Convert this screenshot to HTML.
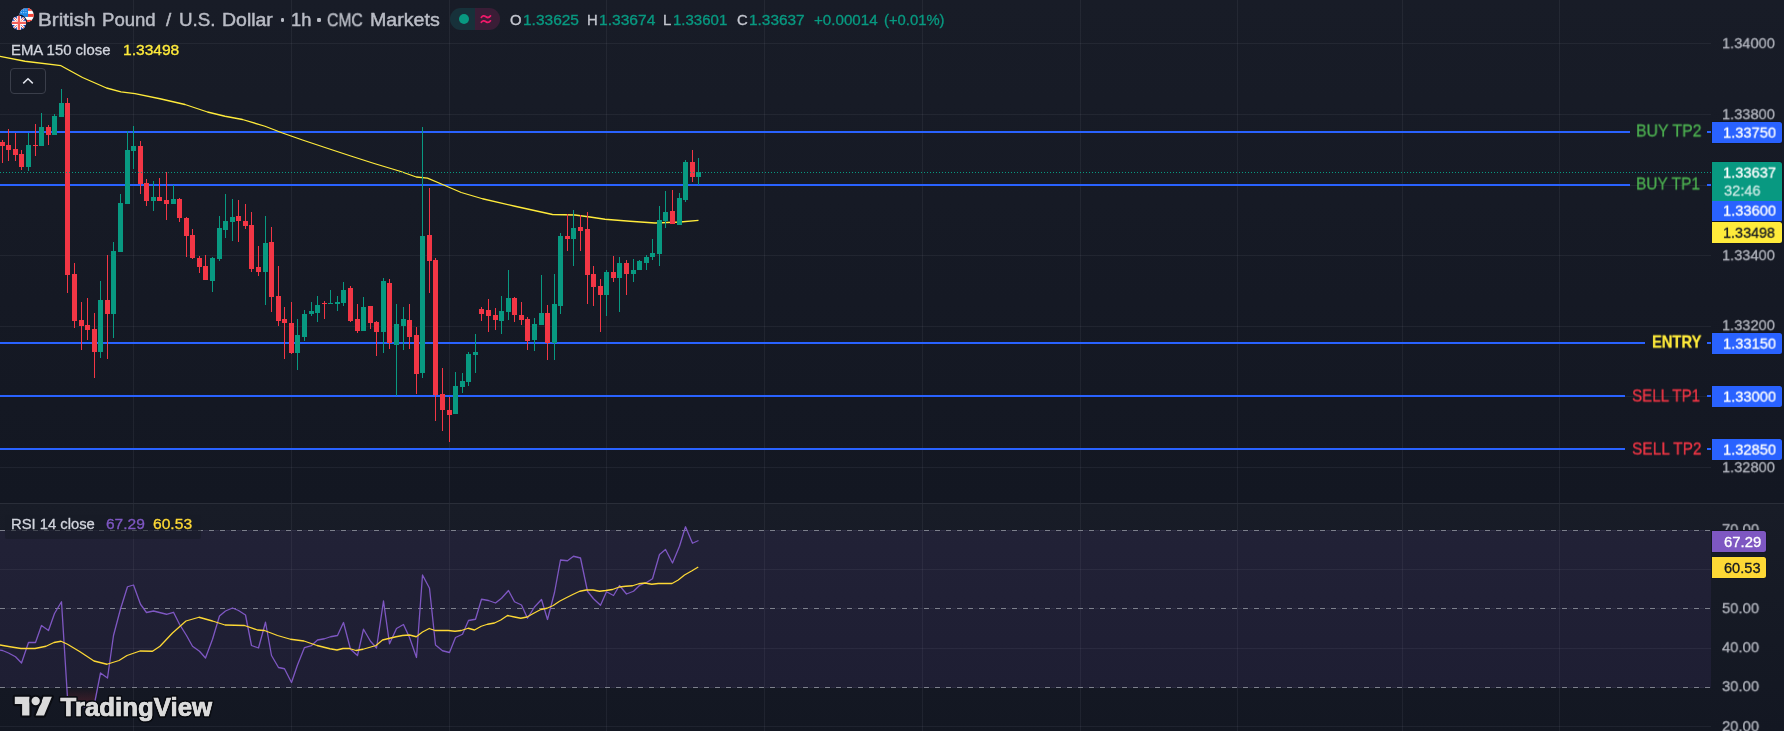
<!DOCTYPE html>
<html><head><meta charset="utf-8"><title>GBPUSD chart</title>
<style>
html,body{margin:0;padding:0;background:#131722;}
body{width:1784px;height:731px;position:relative;overflow:hidden;font-family:"Liberation Sans",sans-serif;}
.pane{position:absolute;left:0;width:1784px;background:linear-gradient(#181c27,#131722);}
#pa{top:0;height:503px}
#pb{top:504px;height:227px}
#sep{position:absolute;left:0;top:503px;width:1784px;height:1px;background:#2a2e39}
svg.c{position:absolute;left:0;top:0}
.t{position:absolute;white-space:nowrap;line-height:1;transform-origin:0 50%;-webkit-text-stroke:0.3px currentColor;will-change:transform}
.tt{-webkit-text-stroke-width:0.45px}
.bx{position:absolute;border-radius:0 2.5px 2.5px 0;box-shadow:0 0 0 1px #131722}
#pill{position:absolute;left:450px;top:8px;width:50px;height:22px;border-radius:11px;overflow:hidden;background:linear-gradient(90deg,#17313a 0,#17313a 25px,#3a1d36 25px,#3a1d36 50px)}
#dot{position:absolute;left:9px;top:6px;width:10px;height:10px;border-radius:5px;background:#089981}
#btn{position:absolute;left:10px;top:68px;width:34px;height:24px;border:1px solid #3a3e4a;border-radius:4px}

.bl{position:absolute;top:18.4px;width:3.6px;height:3.6px;border-radius:1.2px;background:#b9bcc5}
#lg{position:absolute;left:5px;top:515px;width:196px;height:24px;background:rgba(24,28,39,0.55);border-radius:2px}
</style></head><body>
<div class="pane" id="pa"></div><div class="pane" id="pb"></div><div id="sep"></div>
<svg class="c" width="1784" height="731" viewBox="0 0 1784 731">
<defs><linearGradient id="os" x1="0" y1="687" x2="0" y2="706" gradientUnits="userSpaceOnUse"><stop offset="0" stop-color="#f23645" stop-opacity="0"/><stop offset="1" stop-color="#f23645" stop-opacity="0.22"/></linearGradient></defs>
<g fill="#f0f3fa" fill-opacity="0.06" shape-rendering="crispEdges"><rect x="133" y="0" width="1" height="503"/><rect x="133" y="504" width="1" height="227"/><rect x="291" y="0" width="1" height="503"/><rect x="291" y="504" width="1" height="227"/><rect x="449" y="0" width="1" height="503"/><rect x="449" y="504" width="1" height="227"/><rect x="606" y="0" width="1" height="503"/><rect x="606" y="504" width="1" height="227"/><rect x="764" y="0" width="1" height="503"/><rect x="764" y="504" width="1" height="227"/><rect x="922" y="0" width="1" height="503"/><rect x="922" y="504" width="1" height="227"/><rect x="1080" y="0" width="1" height="503"/><rect x="1080" y="504" width="1" height="227"/><rect x="1237" y="0" width="1" height="503"/><rect x="1237" y="504" width="1" height="227"/><rect x="1402" y="0" width="1" height="503"/><rect x="1402" y="504" width="1" height="227"/><rect x="1559" y="0" width="1" height="503"/><rect x="1559" y="504" width="1" height="227"/><rect x="0" y="43" width="1711" height="1"/><rect x="0" y="114" width="1711" height="1"/><rect x="0" y="185" width="1711" height="1"/><rect x="0" y="255" width="1711" height="1"/><rect x="0" y="326" width="1711" height="1"/><rect x="0" y="396" width="1711" height="1"/><rect x="0" y="467" width="1711" height="1"/><rect x="0" y="569" width="1711" height="1"/><rect x="0" y="648" width="1711" height="1"/><rect x="0" y="726" width="1711" height="1"/></g>
<rect x="0" y="530" width="1711" height="158" fill="#7e57c2" fill-opacity="0.1" shape-rendering="crispEdges"/>
<line x1="0" y1="530.5" x2="1711" y2="530.5" stroke="#7d808c" stroke-width="1" stroke-dasharray="5 6" shape-rendering="crispEdges"/>
<line x1="6" y1="530.5" x2="1711" y2="530.5" stroke="#a8a4c4" stroke-opacity="0.09" stroke-width="1" stroke-dasharray="4 7" shape-rendering="crispEdges"/>
<line x1="0" y1="608.5" x2="1711" y2="608.5" stroke="#7d808c" stroke-width="1" stroke-dasharray="5 6" shape-rendering="crispEdges"/>
<line x1="6" y1="608.5" x2="1711" y2="608.5" stroke="#a8a4c4" stroke-opacity="0.09" stroke-width="1" stroke-dasharray="4 7" shape-rendering="crispEdges"/>
<line x1="0" y1="687.5" x2="1711" y2="687.5" stroke="#7d808c" stroke-width="1" stroke-dasharray="5 6" shape-rendering="crispEdges"/>
<line x1="6" y1="687.5" x2="1711" y2="687.5" stroke="#a8a4c4" stroke-opacity="0.09" stroke-width="1" stroke-dasharray="4 7" shape-rendering="crispEdges"/>
<polygon points="66.8,687.5 67.5,698.0 74.5,700.0 81.5,706.0 87.5,708.0 94.5,703.5 97.6,687.5" fill="url(#os)"/>
<g fill="#2962ff" shape-rendering="crispEdges"><rect x="0" y="131" width="1630" height="2"/><rect x="1707" y="131" width="4" height="2"/><rect x="0" y="184" width="1630" height="2"/><rect x="1707" y="184" width="4" height="2"/><rect x="0" y="342" width="1645" height="2"/><rect x="1707" y="342" width="4" height="2"/><rect x="0" y="395" width="1625" height="2"/><rect x="1707" y="395" width="4" height="2"/><rect x="0" y="448" width="1625" height="2"/><rect x="1707" y="448" width="4" height="2"/></g>
<polyline fill="none" stroke="#ffeb3b" stroke-width="1.3" stroke-linejoin="round" points="-2,56 0,56.4 25,61.25 61,65.7 82.5,77.5 106.5,88 121,91.8 135,93.6 160,98.75 185,104.5 207.5,112 225,116.25 242.5,119.5 265,126.25 282.5,133 302.5,140 325,147.5 350,155.75 375,163.75 400,171.25 416.25,177 427.5,178.2 443.75,185 461.25,192.5 482.5,198.75 515,206.25 552.5,214.5 575,215 590,217 605,219.25 630,221.25 655,223 680,222 698.5,220.3"/>
<g fill="#089981" shape-rendering="crispEdges"><rect x="28" y="133" width="1" height="38"/><rect x="26" y="145" width="5" height="22"/><rect x="41" y="113" width="1" height="33"/><rect x="39" y="127" width="5" height="19"/><rect x="54" y="114" width="1" height="21"/><rect x="52" y="116" width="5" height="19"/><rect x="61" y="89" width="1" height="28"/><rect x="59" y="103" width="5" height="14"/><rect x="100" y="281" width="1" height="77"/><rect x="98" y="300" width="5" height="52"/><rect x="113" y="242" width="1" height="96"/><rect x="111" y="251" width="5" height="63"/><rect x="120" y="194" width="1" height="58"/><rect x="118" y="203" width="5" height="49"/><rect x="127" y="131" width="1" height="73"/><rect x="125" y="150" width="5" height="54"/><rect x="133" y="126" width="1" height="43"/><rect x="131" y="146" width="5" height="5"/><rect x="153" y="181" width="1" height="30"/><rect x="151" y="197" width="5" height="4"/><rect x="173" y="185" width="1" height="19"/><rect x="171" y="199" width="5" height="5"/><rect x="212" y="257" width="1" height="35"/><rect x="210" y="258" width="5" height="23"/><rect x="219" y="216" width="1" height="45"/><rect x="217" y="228" width="5" height="31"/><rect x="225" y="194" width="1" height="44"/><rect x="223" y="221" width="5" height="9"/><rect x="232" y="199" width="1" height="42"/><rect x="230" y="217" width="5" height="5"/><rect x="265" y="216" width="1" height="89"/><rect x="263" y="243" width="5" height="29"/><rect x="297" y="319" width="1" height="51"/><rect x="295" y="335" width="5" height="18"/><rect x="304" y="310" width="1" height="31"/><rect x="302" y="314" width="5" height="23"/><rect x="311" y="302" width="1" height="14"/><rect x="309" y="311" width="5" height="3"/><rect x="317" y="296" width="1" height="26"/><rect x="315" y="305" width="5" height="8"/><rect x="330" y="290" width="1" height="14"/><rect x="328" y="303" width="5" height="1"/><rect x="337" y="296" width="1" height="15"/><rect x="335" y="302" width="5" height="2"/><rect x="343" y="282" width="1" height="24"/><rect x="341" y="290" width="5" height="13"/><rect x="363" y="297" width="1" height="34"/><rect x="361" y="307" width="5" height="24"/><rect x="383" y="278" width="1" height="75"/><rect x="381" y="281" width="5" height="51"/><rect x="396" y="304" width="1" height="92"/><rect x="394" y="324" width="5" height="21"/><rect x="403" y="307" width="1" height="43"/><rect x="401" y="319" width="5" height="7"/><rect x="422" y="127" width="1" height="251"/><rect x="420" y="236" width="5" height="137"/><rect x="455" y="372" width="1" height="42"/><rect x="453" y="386" width="5" height="28"/><rect x="462" y="373" width="1" height="20"/><rect x="460" y="381" width="5" height="6"/><rect x="468" y="352" width="1" height="34"/><rect x="466" y="354" width="5" height="28"/><rect x="475" y="334" width="1" height="39"/><rect x="473" y="352" width="5" height="3"/><rect x="501" y="296" width="1" height="38"/><rect x="499" y="311" width="5" height="10"/><rect x="508" y="270" width="1" height="50"/><rect x="506" y="298" width="5" height="14"/><rect x="534" y="318" width="1" height="33"/><rect x="532" y="324" width="5" height="16"/><rect x="541" y="275" width="1" height="50"/><rect x="539" y="313" width="5" height="12"/><rect x="554" y="274" width="1" height="86"/><rect x="552" y="304" width="5" height="39"/><rect x="560" y="233" width="1" height="81"/><rect x="558" y="236" width="5" height="70"/><rect x="573" y="210" width="1" height="56"/><rect x="571" y="228" width="5" height="11"/><rect x="606" y="270" width="1" height="46"/><rect x="604" y="272" width="5" height="23"/><rect x="619" y="257" width="1" height="55"/><rect x="617" y="263" width="5" height="15"/><rect x="633" y="259" width="1" height="23"/><rect x="631" y="270" width="5" height="4"/><rect x="639" y="260" width="1" height="10"/><rect x="637" y="261" width="5" height="9"/><rect x="646" y="255" width="1" height="15"/><rect x="644" y="257" width="5" height="6"/><rect x="652" y="239" width="1" height="21"/><rect x="650" y="253" width="5" height="4"/><rect x="659" y="206" width="1" height="60"/><rect x="657" y="220" width="5" height="34"/><rect x="665" y="191" width="1" height="37"/><rect x="663" y="212" width="5" height="9"/><rect x="679" y="193" width="1" height="32"/><rect x="677" y="198" width="5" height="27"/><rect x="685" y="160" width="1" height="42"/><rect x="683" y="162" width="5" height="38"/><rect x="698" y="158" width="1" height="27"/><rect x="696" y="172" width="5" height="5"/></g>
<g fill="#f23645" shape-rendering="crispEdges"><rect x="2" y="140" width="1" height="23"/><rect x="0" y="142" width="5" height="4"/><rect x="8" y="129" width="1" height="32"/><rect x="6" y="145" width="5" height="5"/><rect x="15" y="133" width="1" height="28"/><rect x="13" y="149" width="5" height="6"/><rect x="21" y="150" width="1" height="20"/><rect x="19" y="154" width="5" height="13"/><rect x="35" y="124" width="1" height="32"/><rect x="33" y="145" width="5" height="1"/><rect x="48" y="125" width="1" height="20"/><rect x="46" y="127" width="5" height="8"/><rect x="67" y="98" width="1" height="195"/><rect x="65" y="103" width="5" height="172"/><rect x="74" y="263" width="1" height="65"/><rect x="72" y="274" width="5" height="47"/><rect x="81" y="302" width="1" height="48"/><rect x="79" y="320" width="5" height="6"/><rect x="87" y="298" width="1" height="42"/><rect x="85" y="325" width="5" height="5"/><rect x="94" y="313" width="1" height="65"/><rect x="92" y="329" width="5" height="23"/><rect x="107" y="255" width="1" height="104"/><rect x="105" y="300" width="5" height="14"/><rect x="140" y="141" width="1" height="53"/><rect x="138" y="146" width="5" height="38"/><rect x="146" y="179" width="1" height="27"/><rect x="144" y="183" width="5" height="18"/><rect x="159" y="178" width="1" height="23"/><rect x="157" y="197" width="5" height="4"/><rect x="166" y="172" width="1" height="48"/><rect x="164" y="200" width="5" height="4"/><rect x="179" y="198" width="1" height="24"/><rect x="177" y="199" width="5" height="19"/><rect x="186" y="217" width="1" height="40"/><rect x="184" y="218" width="5" height="18"/><rect x="192" y="229" width="1" height="30"/><rect x="190" y="235" width="5" height="23"/><rect x="199" y="256" width="1" height="17"/><rect x="197" y="258" width="5" height="9"/><rect x="205" y="255" width="1" height="25"/><rect x="203" y="266" width="5" height="14"/><rect x="238" y="200" width="1" height="42"/><rect x="236" y="216" width="5" height="5"/><rect x="245" y="204" width="1" height="25"/><rect x="243" y="221" width="5" height="5"/><rect x="251" y="212" width="1" height="60"/><rect x="249" y="225" width="5" height="44"/><rect x="258" y="246" width="1" height="30"/><rect x="256" y="267" width="5" height="5"/><rect x="271" y="227" width="1" height="85"/><rect x="269" y="242" width="5" height="55"/><rect x="278" y="266" width="1" height="60"/><rect x="276" y="296" width="5" height="25"/><rect x="284" y="307" width="1" height="52"/><rect x="282" y="319" width="5" height="4"/><rect x="291" y="302" width="1" height="52"/><rect x="289" y="323" width="5" height="30"/><rect x="324" y="301" width="1" height="18"/><rect x="322" y="303" width="5" height="1"/><rect x="350" y="286" width="1" height="36"/><rect x="348" y="288" width="5" height="33"/><rect x="357" y="304" width="1" height="29"/><rect x="355" y="319" width="5" height="12"/><rect x="370" y="306" width="1" height="23"/><rect x="368" y="306" width="5" height="17"/><rect x="376" y="321" width="1" height="35"/><rect x="374" y="322" width="5" height="10"/><rect x="389" y="279" width="1" height="70"/><rect x="387" y="283" width="5" height="60"/><rect x="409" y="304" width="1" height="45"/><rect x="407" y="320" width="5" height="17"/><rect x="416" y="327" width="1" height="67"/><rect x="414" y="335" width="5" height="39"/><rect x="429" y="188" width="1" height="105"/><rect x="427" y="235" width="5" height="26"/><rect x="435" y="258" width="1" height="163"/><rect x="433" y="260" width="5" height="135"/><rect x="442" y="368" width="1" height="63"/><rect x="440" y="394" width="5" height="16"/><rect x="449" y="397" width="1" height="45"/><rect x="447" y="410" width="5" height="5"/><rect x="481" y="307" width="1" height="14"/><rect x="479" y="309" width="5" height="5"/><rect x="488" y="299" width="1" height="33"/><rect x="486" y="310" width="5" height="6"/><rect x="495" y="308" width="1" height="22"/><rect x="493" y="315" width="5" height="5"/><rect x="514" y="297" width="1" height="25"/><rect x="512" y="298" width="5" height="17"/><rect x="521" y="302" width="1" height="23"/><rect x="519" y="315" width="5" height="5"/><rect x="527" y="317" width="1" height="33"/><rect x="525" y="319" width="5" height="22"/><rect x="547" y="305" width="1" height="55"/><rect x="545" y="313" width="5" height="30"/><rect x="567" y="214" width="1" height="37"/><rect x="565" y="236" width="5" height="3"/><rect x="580" y="215" width="1" height="36"/><rect x="578" y="227" width="5" height="4"/><rect x="587" y="212" width="1" height="92"/><rect x="585" y="229" width="5" height="46"/><rect x="593" y="266" width="1" height="40"/><rect x="591" y="274" width="5" height="13"/><rect x="600" y="279" width="1" height="53"/><rect x="598" y="286" width="5" height="9"/><rect x="613" y="256" width="1" height="26"/><rect x="611" y="272" width="5" height="6"/><rect x="626" y="260" width="1" height="35"/><rect x="624" y="263" width="5" height="11"/><rect x="672" y="190" width="1" height="34"/><rect x="670" y="211" width="5" height="13"/><rect x="692" y="150" width="1" height="32"/><rect x="690" y="162" width="5" height="15"/></g>
<line x1="0" y1="172.5" x2="1711" y2="172.5" stroke="#089981" stroke-width="1" stroke-dasharray="1 2" shape-rendering="crispEdges"/>
<polyline fill="none" stroke="#7e57c2" stroke-width="1.3" stroke-linejoin="round" points="-4.5,649.3 2.5,650.5 8.5,653 15.5,656.75 21.5,663 28.5,642.5 35.5,642.5 41.5,625.5 48.5,630.5 54.5,613.5 61.5,601.75 67.5,698 74.5,700 81.5,706 87.5,708 94.5,703.5 100.5,673 107.5,678 113.5,635.5 120.5,609 127.5,586.75 133.5,585 140.5,604.25 146.5,612.5 153.5,611 159.5,612.5 166.5,614.25 173.5,612.25 179.5,624.25 186.5,635.5 192.5,646.25 199.5,651.25 205.5,658 212.5,639.25 219.5,616 225.5,611 232.5,608 238.5,610.5 245.5,615 251.5,645.5 258.5,648 265.5,622.25 271.5,655.5 278.5,667.5 284.5,668.75 291.5,682.5 297.5,665 304.5,647.5 311.5,645.5 317.5,640 324.5,638.75 330.5,636.75 337.5,635.5 343.5,622.5 350.5,649.25 357.5,655.5 363.5,629.25 370.5,641.25 376.5,648 383.5,601 389.5,643.75 396.5,628.5 403.5,624.5 409.5,637.5 416.5,657.5 422.5,575 429.5,588.25 435.5,645 442.5,650.75 449.5,652.5 455.5,637.5 462.5,634.25 468.5,620.5 475.5,619.25 481.5,599.25 488.5,600.5 495.5,603 501.5,598.25 508.5,590.5 514.5,601.75 521.5,605 527.5,618.25 534.5,607 541.5,599.5 547.5,619.5 554.5,592.5 560.5,560 567.5,560.75 573.5,556.25 580.5,558 587.5,591.25 593.5,598.75 600.5,605.25 606.5,591.75 613.5,595.5 619.5,585.5 626.5,594 633.5,591.25 639.5,585.5 646.5,582.5 652.5,578.75 659.5,554.5 665.5,549.5 672.5,563 679.5,546.25 685.5,526.75 692.5,543.25 698.5,540.5"/>
<polyline fill="none" stroke="#fdd835" stroke-width="1.3" stroke-linejoin="round" points="-2,645 0,645 10,646.75 21,648.5 35,648.5 46,646.25 54,642.5 61,641.25 67.5,644.25 80,651.75 94,661 107,664.25 119,660.5 127,655.5 140,651 152.5,651.25 160,646.25 172.5,633 186,621 199,617.25 212.5,621 225,625 244.5,625.5 257.5,630 264.5,630.5 277.5,635.5 290.5,639.25 304,641 317,645.5 330,648.75 337,650 343,648.5 349.5,648.5 356,650.5 363,649.25 376,645.5 382.5,640 396,636.75 402.5,635.5 409.5,635 416.25,636.75 422.5,632 429.25,628.5 435,630.5 448.25,630.5 455,631.25 461.25,630.5 468.25,628.25 474.5,630 481.25,626.25 487.5,624.25 494.5,623 500.75,620 507.5,615.5 514.5,617 520.75,618.25 527,617 533.75,613.25 540.75,609.5 547,608.25 553.25,605.5 559.5,601.25 566.75,597.5 573.25,594.25 579.75,591.25 586.25,590 593,590 599.5,591.25 605.75,590.5 612.5,589.5 619.25,587 625.75,586.25 632.5,585.75 638.75,583.75 645,583 651.75,584.25 658.25,583.5 672,583.5 678.25,580 684.5,575 692,570.75 698.25,567"/>
</svg>
<div id="lg"></div>
<div class="bl" style="left:280.5px"></div><div class="bl" style="left:317px"></div>
<div id="pill"><div id="dot"></div>
<svg style="position:absolute;left:30px;top:5px" width="14" height="12" viewBox="0 0 14 12"><path d="M1.3 4.4c1.4-1.9 3-1.9 4.7-.6 1.5 1.1 2.9 1.1 4.5-.9M1.3 9.3c1.4-1.9 3-1.9 4.7-.6 1.5 1.1 2.9 1.1 4.5-.9" fill="none" stroke="#f0196a" stroke-width="1.7" stroke-linecap="round"/></svg>
</div>
<div id="btn"><svg style="position:absolute;left:10px;top:8px" width="14" height="9" viewBox="0 0 14 9"><path d="M2.2 6.4 7 1.8l4.8 4.6" fill="none" stroke="#e0e3eb" stroke-width="1.5"/></svg></div>
<svg class="c" style="left:8px;top:4px" width="34" height="30" viewBox="8 4 34 30">
<defs><clipPath id="cu"><circle cx="26.6" cy="15.1" r="7.2"/></clipPath><clipPath id="ck"><circle cx="18.95" cy="22.9" r="7.2"/></clipPath></defs>
<g clip-path="url(#cu)"><rect x="19" y="7" width="16" height="17" fill="#fff"/>
<g fill="#f44336"><rect x="19" y="7.8" width="16" height="3"/><rect x="19" y="13.9" width="16" height="3"/><rect x="19" y="19.9" width="16" height="3"/></g>
<rect x="19" y="7" width="9" height="9.9" fill="#1e88e5"/>
<g fill="#90caf9"><rect x="20.8" y="9.5" width="1.1" height="1.2"/><rect x="23.1" y="9.5" width="1.1" height="1.2"/><rect x="25.4" y="9.5" width="1.1" height="1.2"/><rect x="20.8" y="12" width="1.1" height="1.2"/><rect x="23.1" y="12" width="1.1" height="1.2"/><rect x="25.4" y="12" width="1.1" height="1.2"/></g></g>
<circle cx="18.95" cy="22.9" r="8.3" fill="#171b26"/>
<g clip-path="url(#ck)"><rect x="11" y="15" width="16" height="16" fill="#1a47b8"/>
<path d="M11.5 15.45l15 15M26.4 15.45l-15 15" stroke="#fff" stroke-width="2.6"/>
<path d="M11.5 15.45l15 15M26.4 15.45l-15 15" stroke="#f4605a" stroke-width="1"/>
<path d="M18.95 15v16M11 22.9h16" stroke="#fff" stroke-width="4.2"/>
<path d="M18.95 15v16M11 22.9h16" stroke="#f4605a" stroke-width="2.4"/></g>
</svg>
<div class="t tt" id="ti1" style="left:38.32px;top:21.3px;font-size:17.6px;color:#b9bcc5;font-weight:400;transform:translateY(-50%) scaleX(1.1784)">British</div>
<div class="t tt" id="ti2" style="left:101.84px;top:21.3px;font-size:17.6px;color:#b9bcc5;font-weight:400;transform:translateY(-50%) scaleX(1.0552)">Pound</div>
<div class="t tt" id="ti3" style="left:165.95px;top:21.3px;font-size:17.6px;color:#b9bcc5;font-weight:400;transform:translateY(-50%) scaleX(1.0600)">/</div>
<div class="t tt" id="ti4" style="left:178.83px;top:21.3px;font-size:17.6px;color:#b9bcc5;font-weight:400;transform:translateY(-50%) scaleX(1.0672)">U.S.</div>
<div class="t tt" id="ti5" style="left:221.59px;top:21.3px;font-size:17.6px;color:#b9bcc5;font-weight:400;transform:translateY(-50%) scaleX(1.1066)">Dollar</div>
<div class="t tt" id="ti6" style="left:290.56px;top:21.3px;font-size:17.6px;color:#b9bcc5;font-weight:400;transform:translateY(-50%) scaleX(1.0402)">1h</div>
<div class="t tt" id="ti7" style="left:327.00px;top:21.3px;font-size:17.6px;color:#b9bcc5;font-weight:400;transform:translateY(-50%) scaleX(0.8944)">CMC</div>
<div class="t tt" id="ti8" style="left:369.58px;top:21.3px;font-size:17.6px;color:#b9bcc5;font-weight:400;transform:translateY(-50%) scaleX(1.1154)">Markets</div>
<div class="t" id="o" style="left:509.52px;top:20px;font-size:14px;color:#c3c6cf;font-weight:400;transform:translateY(-50%) scaleX(1.0600)">O</div>
<div class="t" id="ov" style="left:522.59px;top:20px;font-size:14px;color:#089981;font-weight:400;transform:translateY(-50%) scaleX(1.1060)">1.33625</div>
<div class="t" id="h" style="left:586.80px;top:20px;font-size:14px;color:#c3c6cf;font-weight:400;transform:translateY(-50%) scaleX(1.0600)">H</div>
<div class="t" id="hv" style="left:598.69px;top:20px;font-size:14px;color:#089981;font-weight:400;transform:translateY(-50%) scaleX(1.1140)">1.33674</div>
<div class="t" id="l" style="left:663.13px;top:20px;font-size:14px;color:#c3c6cf;font-weight:400;transform:translateY(-50%) scaleX(1.0600)">L</div>
<div class="t" id="lv" style="left:673.13px;top:20px;font-size:14px;color:#089981;font-weight:400;transform:translateY(-50%) scaleX(1.0719)">1.33601</div>
<div class="t" id="c" style="left:736.65px;top:20px;font-size:14px;color:#c3c6cf;font-weight:400;transform:translateY(-50%) scaleX(1.0600)">C</div>
<div class="t" id="cv" style="left:748.70px;top:20px;font-size:14px;color:#089981;font-weight:400;transform:translateY(-50%) scaleX(1.1000)">1.33637</div>
<div class="t" id="chg" style="left:813.70px;top:20px;font-size:14px;color:#089981;font-weight:400;transform:translateY(-50%) scaleX(1.0831)">+0.00014</div>
<div class="t" id="chg2" style="left:884.40px;top:20px;font-size:14px;color:#089981;font-weight:400;transform:translateY(-50%) scaleX(1.0578)">(+0.01%)</div>
<div class="t" id="ema" style="left:11.14px;top:49.6px;font-size:14px;color:#d1d4dc;font-weight:400;transform:translateY(-50%) scaleX(1.0646)">EMA 150 close</div>
<div class="t" id="emav" style="left:122.89px;top:49.6px;font-size:14px;color:#ffeb3b;font-weight:400;transform:translateY(-50%) scaleX(1.1120)">1.33498</div>
<div class="t" id="rsi" style="left:11.14px;top:524.4px;font-size:14px;color:#d1d4dc;font-weight:400;transform:translateY(-50%) scaleX(1.0562)">RSI 14 close</div>
<div class="t" id="rsiv" style="left:106.00px;top:524.4px;font-size:14px;color:#7e57c2;font-weight:400;transform:translateY(-50%) scaleX(1.1064)">67.29</div>
<div class="t" id="rsim" style="left:153.40px;top:524.4px;font-size:14px;color:#fdd835;font-weight:400;transform:translateY(-50%) scaleX(1.1150)">60.53</div>
<div class="t" id="ax0" style="left:1722.46px;top:42.75px;font-size:15.5px;color:#b2b5be;font-weight:400;transform:translateY(-50%) scaleX(0.9421)">1.34000</div>
<div class="t" id="ax1" style="left:1722.46px;top:113.75px;font-size:15.5px;color:#b2b5be;font-weight:400;transform:translateY(-50%) scaleX(0.9421)">1.33800</div>
<div class="t" id="ax2" style="left:1722.46px;top:184.7px;font-size:15.5px;color:#b2b5be;font-weight:400;transform:translateY(-50%) scaleX(0.9421)">1.33600</div>
<div class="t" id="ax3" style="left:1722.46px;top:254.75px;font-size:15.5px;color:#b2b5be;font-weight:400;transform:translateY(-50%) scaleX(0.9421)">1.33400</div>
<div class="t" id="ax4" style="left:1722.46px;top:324.65px;font-size:15.5px;color:#b2b5be;font-weight:400;transform:translateY(-50%) scaleX(0.9421)">1.33200</div>
<div class="t" id="ax5" style="left:1722.46px;top:395.7px;font-size:15.5px;color:#b2b5be;font-weight:400;transform:translateY(-50%) scaleX(0.9421)">1.33000</div>
<div class="t" id="ax6" style="left:1722.46px;top:466.65px;font-size:15.5px;color:#b2b5be;font-weight:400;transform:translateY(-50%) scaleX(0.9421)">1.32800</div>
<div class="t" id="rx0" style="left:1721.80px;top:529.35px;font-size:15.5px;color:#b2b5be;font-weight:400;transform:translateY(-50%) scaleX(0.9549)">70.00</div>
<div class="t" id="rx1" style="left:1721.80px;top:607.8000000000001px;font-size:15.5px;color:#b2b5be;font-weight:400;transform:translateY(-50%) scaleX(0.9549)">50.00</div>
<div class="t" id="rx2" style="left:1721.80px;top:646.7px;font-size:15.5px;color:#b2b5be;font-weight:400;transform:translateY(-50%) scaleX(0.9549)">40.00</div>
<div class="t" id="rx3" style="left:1721.80px;top:685.6500000000001px;font-size:15.5px;color:#b2b5be;font-weight:400;transform:translateY(-50%) scaleX(0.9549)">30.00</div>
<div class="t" id="rx4" style="left:1721.80px;top:725.8000000000001px;font-size:15.5px;color:#b2b5be;font-weight:400;transform:translateY(-50%) scaleX(0.9549)">20.00</div>
<div class="t" id="b2" style="left:1635.87px;top:130.7px;font-size:17px;color:#4caf50;font-weight:400;transform:translateY(-50%) scaleX(0.9323)">BUY TP2</div>
<div class="t" id="b1" style="left:1635.89px;top:183.7px;font-size:17px;color:#4caf50;font-weight:400;transform:translateY(-50%) scaleX(0.9107)">BUY TP1</div>
<div class="t" id="en" style="left:1651.63px;top:342px;font-size:17px;color:#ffeb3b;font-weight:700;transform:translateY(-50%) scaleX(0.8650)">ENTRY</div>
<div class="t" id="s1" style="left:1632.00px;top:395.5px;font-size:17px;color:#f23645;font-weight:400;transform:translateY(-50%) scaleX(0.8892)">SELL TP1</div>
<div class="t" id="s2" style="left:1632.00px;top:448.5px;font-size:17px;color:#f23645;font-weight:400;transform:translateY(-50%) scaleX(0.9087)">SELL TP2</div>
<div class="bx" style="left:1712px;top:122px;width:70px;height:21px;background:#2962ff"></div>
<div class="t" id="p1" style="left:1723.21px;top:132.9px;font-size:14.8px;color:#fff;font-weight:400;transform:translateY(-50%) scaleX(0.9912)">1.33750</div>
<div class="bx" style="left:1712px;top:162px;width:70px;height:39px;background:#089981;border-radius:0 2.5px 0 0"></div>
<div class="t" id="p2" style="left:1723.21px;top:172.9px;font-size:14.8px;color:#fff;font-weight:400;transform:translateY(-50%) scaleX(0.9912)">1.33637</div>
<div class="t" id="p2e" style="left:1724.20px;top:190.5px;font-size:14.8px;color:rgba(255,255,255,0.72);font-weight:400;transform:translateY(-50%) scaleX(0.9864)">32:46</div>
<div class="bx" style="left:1712px;top:201px;width:70px;height:20.5px;background:#2962ff;border-radius:0 0 2.5px 0;box-shadow:1px 0 0 #131722,-1px 0 0 #131722,0 1px 0 #131722"></div>
<div class="t" id="p3" style="left:1723.21px;top:211.4px;font-size:14.8px;color:#fff;font-weight:400;transform:translateY(-50%) scaleX(0.9912)">1.33600</div>
<div class="bx" style="left:1712px;top:222px;width:70px;height:21px;background:#ffeb3b"></div>
<div class="t" id="p4" style="left:1723.21px;top:232.9px;font-size:14.5px;color:#131722;font-weight:400;transform:translateY(-50%) scaleX(0.9912)">1.33498</div>
<div class="bx" style="left:1712px;top:333px;width:70px;height:21px;background:#2962ff"></div>
<div class="t" id="p5" style="left:1723.21px;top:343.9px;font-size:14.8px;color:#fff;font-weight:400;transform:translateY(-50%) scaleX(0.9912)">1.33150</div>
<div class="bx" style="left:1712px;top:386px;width:70px;height:21px;background:#2962ff"></div>
<div class="t" id="p6" style="left:1723.21px;top:396.9px;font-size:14.8px;color:#fff;font-weight:400;transform:translateY(-50%) scaleX(0.9912)">1.33000</div>
<div class="bx" style="left:1712px;top:439px;width:70px;height:21px;background:#2962ff"></div>
<div class="t" id="p7" style="left:1723.21px;top:449.9px;font-size:14.8px;color:#fff;font-weight:400;transform:translateY(-50%) scaleX(0.9912)">1.32850</div>
<div class="bx" style="left:1712px;top:531px;width:54px;height:21px;background:#7e57c2"></div>
<div class="t" id="r1" style="left:1723.50px;top:541.9px;font-size:14.8px;color:#fff;font-weight:400;transform:translateY(-50%) scaleX(1.0055)">67.29</div>
<div class="bx" style="left:1712px;top:557px;width:54px;height:21px;background:#fdd835"></div>
<div class="t" id="r2" style="left:1723.50px;top:567.9px;font-size:14.5px;color:#131722;font-weight:400;transform:translateY(-50%) scaleX(1.0055)">60.53</div>
<svg class="c" style="left:10px;top:688px;will-change:transform" width="210" height="40" viewBox="10 688 210 40">
<g fill="#dadada" stroke="#0a0c12" stroke-width="4" stroke-linejoin="round" paint-order="stroke">
<g transform="translate(14.8,692.6) scale(1.044)"><path d="M14 22H7V11H0V4h14v18zM28 22h-8l7.5-18h8L28 22z"/><circle cx="20" cy="8" r="4"/></g>
<text x="60.6" y="715.6" font-family="Liberation Sans, sans-serif" font-weight="700" font-size="26.3" textLength="151.5" lengthAdjust="spacingAndGlyphs">TradingView</text>
</g>
<text x="60.6" y="715.6" fill="#dadada" stroke="#dadada" stroke-width="0.7" font-family="Liberation Sans, sans-serif" font-weight="700" font-size="26.3" textLength="151.5" lengthAdjust="spacingAndGlyphs">TradingView</text>
</svg>
</body></html>
